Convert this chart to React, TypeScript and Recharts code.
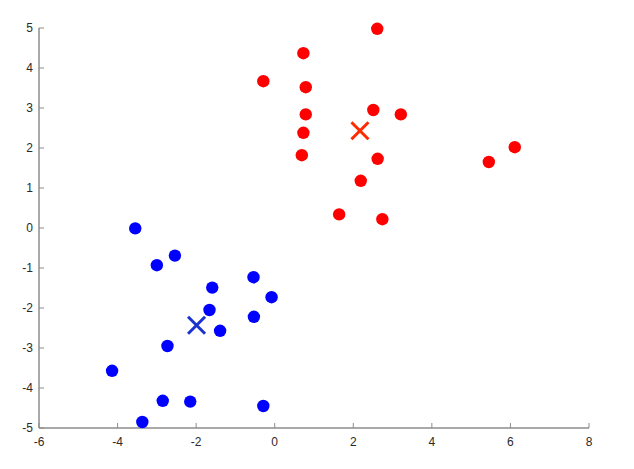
import React from 'react';
import { ScatterChart, Scatter, XAxis, YAxis } from 'recharts';

interface Pt {
  x: number;
  y: number;
}

const redPoints: Pt[] = [
  { x: -0.29, y: 3.67 },
  { x: 0.73, y: 4.37 },
  { x: 0.79, y: 3.52 },
  { x: 0.79, y: 2.84 },
  { x: 0.73, y: 2.38 },
  { x: 0.69, y: 1.82 },
  { x: 2.61, y: 4.98 },
  { x: 2.51, y: 2.95 },
  { x: 3.21, y: 2.84 },
  { x: 2.62, y: 1.73 },
  { x: 2.19, y: 1.18 },
  { x: 1.64, y: 0.34 },
  { x: 2.74, y: 0.22 },
  { x: 5.45, y: 1.65 },
  { x: 6.11, y: 2.02 }
];

const bluePoints: Pt[] = [
  { x: -3.55, y: -0.01 },
  { x: -2.54, y: -0.69 },
  { x: -3.0, y: -0.93 },
  { x: -0.54, y: -1.23 },
  { x: -1.59, y: -1.49 },
  { x: -0.08, y: -1.73 },
  { x: -1.66, y: -2.05 },
  { x: -0.53, y: -2.22 },
  { x: -1.39, y: -2.57 },
  { x: -2.73, y: -2.95 },
  { x: -4.14, y: -3.57 },
  { x: -2.85, y: -4.32 },
  { x: -2.15, y: -4.34 },
  { x: -0.29, y: -4.45 },
  { x: -3.37, y: -4.85 }
];

const redCentroid: Pt[] = [{ x: 2.17, y: 2.43 }];
const blueCentroid: Pt[] = [{ x: -1.99, y: -2.43 }];

const xTicks = [-6, -4, -2, 0, 2, 4, 6, 8];
const yTicks = [-5, -4, -3, -2, -1, 0, 1, 2, 3, 4, 5];

const tickStyle = { fontSize: 12, fill: '#2a2a2a', fontFamily: 'Liberation Sans, Arial, sans-serif' };

const dot = (color: string) => (props: any) => (
  <circle cx={props.cx} cy={props.cy} r={6.2} fill={color} />
);

const cross = (color: string) => (props: any) => {
  const { cx, cy } = props;
  const s = 8.5;
  return (
    <g stroke={color} strokeWidth={3}>
      <line x1={cx - s} y1={cy - s} x2={cx + s} y2={cy + s} />
      <line x1={cx - s} y1={cy + s} x2={cx + s} y2={cy - s} />
    </g>
  );
};

export default function App() {
  return (
    <ScatterChart width={618} height={453} margin={{ top: 20, right: 37, bottom: 3, left: 0 }}>
      <XAxis
        type="number"
        dataKey="x"
        domain={[-6, 8]}
        ticks={xTicks}
        height={30}
        tickSize={-5}
        tickMargin={14}
        tick={tickStyle}
        stroke="#8c8c8c"
        axisLine={{ stroke: '#8c8c8c', strokeWidth: 1.5 }}
        tickLine={{ stroke: '#8c8c8c' }}
      />
      <YAxis
        type="number"
        dataKey="y"
        domain={[-5, 5]}
        ticks={yTicks}
        width={31}
        tickSize={-5}
        tickMargin={11}
        tick={tickStyle}
        stroke="#8c8c8c"
        axisLine={{ stroke: '#8c8c8c', strokeWidth: 1.5 }}
        tickLine={{ stroke: '#8c8c8c' }}
      />
      <Scatter data={redPoints} shape={dot('#ff0000')} isAnimationActive={false} />
      <Scatter data={bluePoints} shape={dot('#0000ff')} isAnimationActive={false} />
      <Scatter data={redCentroid} shape={cross('#ff2a00')} isAnimationActive={false} />
      <Scatter data={blueCentroid} shape={cross('#1a33cc')} isAnimationActive={false} />
    </ScatterChart>
  );
}
